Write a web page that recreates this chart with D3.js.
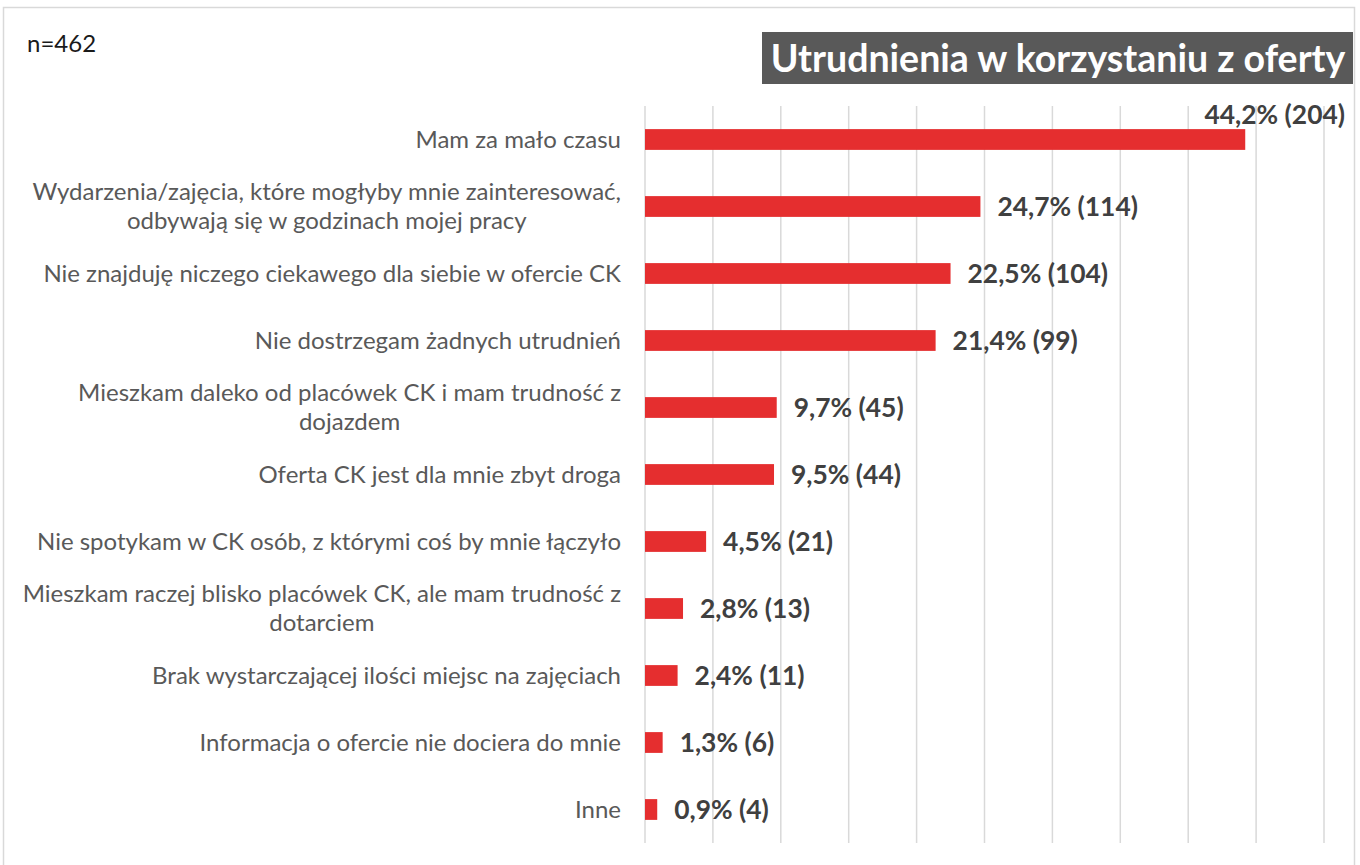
<!DOCTYPE html>
<html><head><meta charset="utf-8">
<script src="https://cdn.jsdelivr.net/npm/d3@7"></script>
<style>html,body{margin:0;padding:0;background:#fff;}svg{display:block;font-family:Lato,"Open Sans",sans-serif;}</style>
</head><body>
<svg id="chart" width="1360" height="865"></svg>
<script>
const categories = [
  "Mam za mało czasu",
  "Wydarzenia/zajęcia, które mogłyby mnie zainteresować,\nodbywają się w godzinach mojej pracy",
  "Nie znajduję niczego ciekawego dla siebie w ofercie CK",
  "Nie dostrzegam żadnych utrudnień",
  "Mieszkam daleko od placówek CK i mam trudność z\ndojazdem",
  "Oferta CK jest dla mnie zbyt droga",
  "Nie spotykam w CK osób, z którymi coś by mnie łączyło",
  "Mieszkam raczej blisko placówek CK, ale mam trudność z\ndotarciem",
  "Brak wystarczającej ilości miejsc na zajęciach",
  "Informacja o ofercie nie dociera do mnie",
  "Inne"
];
const percents = [44.2, 24.7, 22.5, 21.4, 9.7, 9.5, 4.5, 2.8, 2.4, 1.3, 0.9];
const counts = [204, 114, 104, 99, 45, 44, 21, 13, 11, 6, 4];
const gridTicks = [0, 5, 10, 15, 20, 25, 30, 35, 40, 45, 50];
const titleText = "Utrudnienia w korzystaniu z oferty";
const sampleText = "n=462";

const svg = d3.select("#chart");
const x = d3.scaleLinear().domain([0, 50]).range([645, 1324]);
const y = d3.scaleBand().domain(categories).range([106, 843]).paddingInner(0.69).paddingOuter(0.345);

// outer border
svg.append("rect").attr("x", 3.5).attr("y", 7.5).attr("width", 1351).attr("height", 880)
  .attr("fill", "#fff").attr("stroke", "#d9d9d9").attr("stroke-width", 1.5);

// gridlines
svg.append("g").selectAll("line").data(gridTicks).join("line")
  .attr("x1", d => x(d)).attr("x2", d => x(d))
  .attr("y1", 106).attr("y2", 843)
  .attr("stroke", "#d9d9d9").attr("stroke-width", 1.5);

// bars
const rows = categories.map((c, i) => ({c, p: percents[i], n: counts[i]}));
svg.append("g").selectAll("rect").data(rows).join("rect")
  .attr("x", x(0)).attr("y", d => y(d.c))
  .attr("width", d => x(d.p) - x(0)).attr("height", y.bandwidth())
  .attr("fill", "#e52e2f");

// category labels (multi-line blocks centred, right edge at 621)
const lab = svg.append("g").attr("font-size", 24).attr("fill", "#595959").attr("text-anchor", "middle");
rows.forEach(d => {
  const lines = d.c.split("\n");
  const cy = y(d.c) + y.bandwidth() / 2;
  const lh = 29;
  const t = lab.append("text");
  const spans = lines.map((ln, k) => t.append("tspan")
      .attr("y", cy + (k - (lines.length - 1) / 2) * lh)
      .attr("dy", "0.35em").text(ln));
  const maxW = d3.max(spans, s => s.node().getComputedTextLength());
  const cx = 621 - maxW / 2;
  spans.forEach(s => s.attr("x", cx));
});

// value labels
const fmt = v => d3.format(".1f")(v).replace(".", ",");
const vl = svg.append("g").attr("font-size", 26.4).attr("font-weight", "bold").attr("fill", "#404040");
rows.forEach(d => {
  const txt = `${fmt(d.p)}% (${d.n})`;
  const t = vl.append("text").text(txt);
  const w = t.node().getComputedTextLength();
  const cy = y(d.c) + y.bandwidth() / 2;
  if (x(d.p) + 17 + w > 1350) {
    t.attr("x", 1345).attr("y", y(d.c) - 14).attr("dy", "0.35em").attr("text-anchor", "end");
  } else {
    t.attr("x", x(d.p) + 17).attr("y", cy).attr("dy", "0.35em");
  }
});

// title box
svg.append("rect").attr("x", 762).attr("y", 32).attr("width", 591).attr("height", 52).attr("fill", "#595959");
svg.append("text").attr("x", 1058).attr("y", 59).attr("dy", "0.35em").attr("text-anchor", "middle")
  .attr("font-size", 37.5).attr("font-weight", "bold").attr("fill", "#fff").text(titleText);

svg.append("text").attr("x", 27).attr("y", 44).attr("dy", "0.35em")
  .attr("font-size", 24).attr("fill", "#1a1a1a").text(sampleText);
</script>
</body></html>
